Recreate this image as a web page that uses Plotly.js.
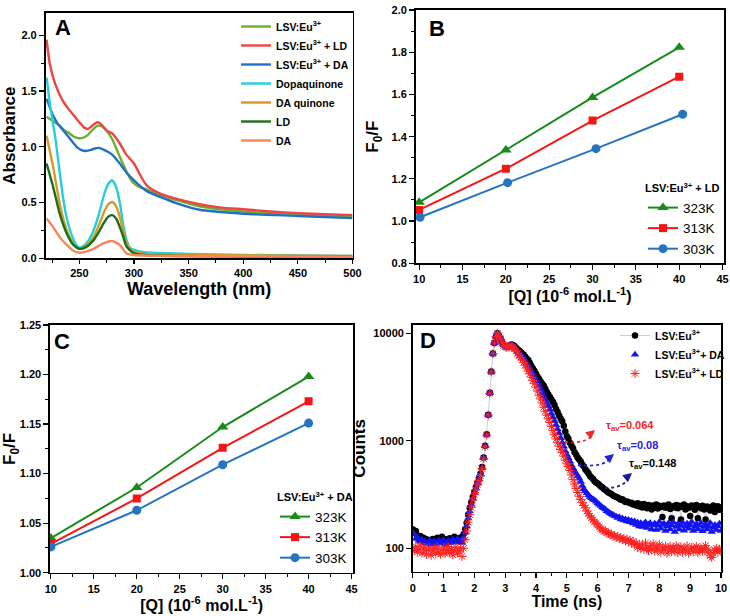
<!DOCTYPE html>
<html><head><meta charset="utf-8">
<script src="https://cdn.plot.ly/plotly-3.0.1.min.js"></script>
<style>html,body{margin:0;padding:0;background:#fff}#chart{width:730px;height:616px}</style>
</head><body><div id="chart"></div>
<script>
// ---------- Panel A : absorbance spectra ----------
const aLsvX = [220,226,232,236,241,245,249,253,257,261,265,268,271,275,280,284,287,293,299,305,312,324,340,360,400,450,500];
const aLsvY = [1.27,1.23,1.19,1.15,1.12,1.09,1.077,1.08,1.10,1.14,1.18,1.19,1.18,1.145,1.07,0.98,0.91,0.78,0.68,0.64,0.616,0.57,0.52,0.467,0.42,0.395,0.375];
const aLdMixX = [220,223,228,235,240,245,250,254,258,263,267,271,275,280,287,293,300,305,309,313,318,324,340,360,380,400,425,450,475,500];
const aLdMixY = [1.96,1.74,1.56,1.41,1.34,1.28,1.22,1.175,1.16,1.20,1.22,1.19,1.145,1.12,1.03,0.93,0.85,0.76,0.69,0.64,0.61,0.58,0.53,0.485,0.455,0.44,0.42,0.405,0.395,0.387];
const aDaMixX = [220,226,230,235,240,244,248,252,256,260,264,268,272,276,280,287,293,300,306,312,324,340,360,400,450,500];
const aDaMixY = [1.43,1.28,1.21,1.15,1.09,1.04,0.995,0.97,0.963,0.97,0.985,0.99,0.975,0.955,0.93,0.85,0.77,0.70,0.645,0.60,0.55,0.49,0.435,0.40,0.38,0.36];
const aDopaqX = [220,223,226,228,231,235,238,241.5,245,248,251,255,259,263,268,272,276,280,284,287,290,293,296,300,310,350,400,500];
const aDopaqY = [1.62,1.39,1.2,1.08,0.85,0.55,0.38,0.25,0.16,0.11,0.098,0.12,0.17,0.25,0.40,0.55,0.66,0.70,0.63,0.50,0.31,0.17,0.10,0.075,0.055,0.04,0.03,0.02];
const aDaqX = [220,226,232,238.5,244.5,250,256,263,268,272,276,280,284,287,290,293,299,310,350,500];
const aDaqY = [1.10,0.82,0.49,0.25,0.134,0.085,0.11,0.19,0.30,0.40,0.48,0.505,0.46,0.37,0.25,0.136,0.06,0.04,0.03,0.02];
const aLdX = [220,226,232,238.5,244.5,250,256,263,268,272,276,280,284,287,290,293,299,310,500];
const aLdY = [0.85,0.64,0.40,0.22,0.12,0.085,0.10,0.163,0.24,0.31,0.37,0.387,0.35,0.28,0.20,0.11,0.05,0.03,0.015];
const aDaX = [220,226,232,238.5,244.5,250,256,263,272,280,287,293,300,350,500];
const aDaY = [0.357,0.28,0.19,0.12,0.068,0.05,0.06,0.085,0.134,0.155,0.12,0.045,0.03,0.02,0.015];

// ---------- Panel B : Stern-Volmer, LSV:Eu3+ + LD ----------
const bQ = [10,20,30,40];
const bQ303 = [10.1,20.2,30.4,40.4];
const b323 = [1.089,1.337,1.586,1.823];
const b313 = [1.053,1.248,1.476,1.684];
const b303 = [1.018,1.182,1.343,1.506];

// ---------- Panel C : Stern-Volmer, LSV:Eu3+ + DA ----------
const cQ = [10,20,30,40];
const c323 = [1.035,1.086,1.147,1.198];
const c313 = [1.029,1.075,1.126,1.173];
const c303 = [1.026,1.063,1.109,1.151];

// ---------- Panel D : decay curves ----------
const dT = [0,0.05,0.1,0.15,0.2,0.25,0.3,0.35,0.4,0.45,0.5,0.55,0.6,0.65,0.7,0.75,0.8,0.85,0.9,0.95,
1,1.05,1.1,1.15,1.2,1.25,1.3,1.35,1.4,1.45,1.5,1.55,1.6,1.65,1.7,1.75,1.8,1.85,1.9,1.95,
2,2.05,2.1,2.15,2.2,2.25,2.3,2.35,2.4,2.45,2.5,2.55,2.6,2.65,2.7,2.75,2.8,2.85,2.9,2.95,
3,3.05,3.1,3.15,3.2,3.25,3.3,3.35,3.4,3.45,3.5,3.55,3.6,3.65,3.7,3.75,3.8,3.85,3.9,3.95,
4,4.05,4.1,4.15,4.2,4.25,4.3,4.35,4.4,4.45,4.5,4.55,4.6,4.65,4.7,4.75,4.8,4.85,4.9,4.95,
5,5.05,5.1,5.15,5.2,5.25,5.3,5.35,5.4,5.45,5.5,5.55,5.6,5.65,5.7,5.75,5.8,5.85,5.9,5.95,
6,6.05,6.1,6.15,6.2,6.25,6.3,6.35,6.4,6.45,6.5,6.55,6.6,6.65,6.7,6.75,6.8,6.85,6.9,6.95,
7,7.05,7.1,7.15,7.2,7.25,7.3,7.35,7.4,7.45,7.5,7.55,7.6,7.65,7.7,7.75,7.8,7.85,7.9,7.95,
8,8.05,8.1,8.15,8.2,8.25,8.3,8.35,8.4,8.45,8.5,8.55,8.6,8.65,8.7,8.75,8.8,8.85,8.9,8.95,
9,9.05,9.1,9.15,9.2,9.25,9.3,9.35,9.4,9.45,9.5,9.55,9.6,9.65,9.7,9.75,9.8,9.85,9.9,9.95,10];
const dLsv = [150,140,145,132,128,130,122,125,118,121,115,119,117,122,114,118,125,116,120,128,
117,121,113,119,124,116,122,128,118,123,117,126,121,135,150,172,205,238,268,300,
335,372,410,445,495,570,700,900,1150,1750,2800,4400,6500,8100,9300,10000,9500,8900,8300,7800,
7600,7500,7600,7750,7850,7800,7600,7350,7100,6900,6700,6500,6300,6050,5800,5600,5300,4950,4700,4450,
4200,3950,3750,3550,3400,3250,3050,2850,2700,2550,2420,2300,2150,1980,1850,1720,1600,1520,1380,1220,
1100,1050,960,900,850,780,740,700,670,640,600,575,540,520,500,470,455,440,420,410,
400,390,375,370,355,350,340,330,325,318,310,305,300,296,290,282,285,276,270,272,
268,262,265,255,258,250,262,245,255,240,258,248,236,252,244,230,250,240,255,235,
248,242,195,250,238,245,255,232,190,246,240,252,236,248,185,242,255,230,246,238,
200,250,240,228,252,190,244,236,248,230,185,245,238,225,240,250,218,235,246,228,240];
const dDa = [140,135,122,128,118,115,120,112,116,110,114,118,108,113,117,110,115,119,111,116,
120,109,114,118,112,116,121,113,117,122,114,118,112,125,140,160,190,220,255,290,
325,360,400,435,485,560,690,890,1140,1740,2780,4380,6480,8100,9300,10000,9500,8850,8250,7750,
7550,7450,7550,7700,7750,7650,7400,7100,6800,6550,6300,6050,5800,5500,5200,4950,4700,4400,4150,3900,
3650,3450,3250,3000,2780,2600,2420,2250,2100,1950,1780,1650,1520,1400,1280,1170,1060,960,880,800,
740,690,640,590,555,520,495,470,445,415,380,355,340,325,312,300,292,285,280,272,
262,255,248,240,236,230,222,218,212,208,205,200,198,192,195,186,190,182,186,178,
184,175,180,170,178,165,174,160,172,158,168,175,155,166,172,150,164,170,148,162,
176,152,165,170,145,160,172,150,163,175,142,158,168,150,162,174,146,160,170,152,
164,176,145,158,168,150,162,172,144,158,166,150,160,172,142,156,165,148,160,170,145];
const dLd = [100,95,104,92,98,105,90,97,102,88,96,101,86,94,99,90,103,92,88,97,
101,89,95,104,91,98,87,96,102,90,94,99,84,100,120,145,175,205,240,280,
315,350,390,425,475,550,680,880,1130,1730,2770,4370,6470,8100,9300,10000,9450,8800,8200,7700,
7500,7400,7500,7600,7600,7450,7150,6850,6500,6200,5900,5650,5350,5050,4750,4450,4200,3900,3650,3400,
3150,2900,2650,2450,2240,2050,1880,1730,1600,1480,1360,1250,1140,1040,960,890,830,780,720,660,
610,575,530,480,435,395,360,330,305,285,265,250,238,222,210,200,192,184,176,170,
165,158,152,148,144,145,140,138,134,135,130,131,126,128,124,126,120,123,117,121,
115,119,112,116,108,111,102,109,100,107,98,112,101,95,106,99,110,94,103,97,
108,92,101,96,105,90,99,104,93,100,96,106,91,98,103,92,100,95,105,90,
98,102,93,99,104,91,97,101,94,99,106,92,97,85,82,90,96,100,92,98,95];
const dTickVals = [100,1000,10000];
const dTickText = ['100','1000','10000'];

// ---------- layout helpers ----------
const F = 'Liberation Sans, Arial, sans-serif';
const W = 730, H = 616;
const px = v => v / W;
const py = v => 1 - v / H;

function axis(extra) {
  return Object.assign({
    showline: true, linecolor: '#000', linewidth: 1.6, mirror: true,
    ticks: 'outside', ticklen: 5, tickwidth: 1.2, tickcolor: '#000',
    showgrid: false, zeroline: false, automargin: false,
    tickfont: {family: F, size: 11, weight: 'bold', color: '#000'}
  }, extra);
}
function ttl(text, size, standoff) {
  return {text: text, font: {family: F, size: size, weight: 'bold', color: '#000'}, standoff: standoff};
}
const minor = (d) => ({dtick: d, ticklen: 3, ticks: 'outside', tickcolor: '#000', tickwidth: 1});
function note(text, x, y, size, color, xanchor) {
  return {text: text, x: px(x), y: py(y), xref: 'paper', yref: 'paper', showarrow: false,
    xanchor: xanchor || 'center', yanchor: 'middle',
    font: {family: F, size: size, weight: 'bold', color: color || '#000'}};
}
function head(x, y, color) {
  return {text: '', x: px(x), y: py(y), xref: 'paper', yref: 'paper', ax: -6, ay: 5,
    showarrow: true, arrowhead: 2, arrowsize: 1, arrowwidth: 1.8, arrowcolor: color};
}

const spl = (x, y, name, color) => ({
  x: x, y: y, name: name, type: 'scatter', mode: 'lines',
  line: {color: color, width: 2.4, shape: 'spline', smoothing: 0.6},
  xaxis: 'x', yaxis: 'y', legend: 'legend'
});
const sv = (x, y, name, color, sym, size, ax, lg) => ({
  x: x, y: y, name: name, type: 'scatter', mode: 'lines+markers',
  line: {color: color, width: 2},
  marker: {color: color, symbol: sym, size: size},
  xaxis: 'x' + ax, yaxis: 'y' + ax, legend: lg
});

const traces = [
  spl(aLsvX, aLsvY, 'LSV:Eu<sup>3+</sup>', '#6cae2e'),
  spl(aLdMixX, aLdMixY, 'LSV:Eu<sup>3+</sup> + LD', '#f04444'),
  spl(aDaMixX, aDaMixY, 'LSV:Eu<sup>3+</sup> + DA', '#2170c8'),
  spl(aDopaqX, aDopaqY, 'Dopaquinone', '#22d0dc'),
  spl(aDaqX, aDaqY, 'DA quinone', '#d49a22'),
  spl(aLdX, aLdY, 'LD', '#1b6e1b'),
  spl(aDaX, aDaY, 'DA', '#f6875a'),
  sv(bQ, b323, '323K', '#188b18', 'triangle-up', 10, '2', 'legend2'),
  sv(bQ, b313, '313K', '#f51515', 'square', 8, '2', 'legend2'),
  sv(bQ303, b303, '303K', '#2474c0', 'circle', 9, '2', 'legend2'),
  sv(cQ, c323, '323K', '#188b18', 'triangle-up', 10, '3', 'legend3'),
  sv(cQ, c313, '313K', '#f51515', 'square', 8, '3', 'legend3'),
  sv(cQ, c303, '303K', '#2474c0', 'circle', 9, '3', 'legend3'),
  {x: dT, y: dLsv, name: 'LSV:Eu<sup>3+</sup>', type: 'scatter', mode: 'lines+markers',
   line: {color: 'rgba(190,190,235,0.8)', width: 1},
   marker: {color: '#000', symbol: 'circle', size: 6.5},
   xaxis: 'x4', yaxis: 'y4', legend: 'legend4'},
  {x: dT, y: dDa, name: 'LSV:Eu<sup>3+</sup>+ DA', type: 'scatter', mode: 'markers',
   marker: {color: '#1414f0', symbol: 'triangle-up', size: 7.5},
   xaxis: 'x4', yaxis: 'y4', legend: 'legend4'},
  {x: dT, y: dLd, name: 'LSV:Eu<sup>3+</sup>+ LD', type: 'scatter', mode: 'markers',
   marker: {color: '#ff2020', symbol: 'asterisk-open', size: 7.5, line: {color: '#ff2020', width: 1}},
   xaxis: 'x4', yaxis: 'y4', legend: 'legend4'}
];

const legBase = {bgcolor: 'rgba(0,0,0,0)', borderwidth: 0, tracegroupgap: 0, xanchor: 'left'};

const layout = {
  width: W, height: H,
  margin: {l: 0, r: 0, t: 0, b: 0, pad: 0},
  paper_bgcolor: '#fff', plot_bgcolor: '#fff',
  font: {family: F, color: '#000'},
  xaxis: axis({domain: [px(45.5), px(352.5)], anchor: 'y', range: [219, 500], dtick: 50, tick0: 0,
    ticklen: 4, minor: minor(25)}),
  yaxis: axis({domain: [py(258.3), py(13)], anchor: 'x', range: [0, 2.2], dtick: 0.5, tickformat: '.1f',
    minor: minor(0.25), title: ttl('Absorbance', 17, 10)}),
  xaxis2: axis({domain: [px(415.7), px(724.3)], anchor: 'y2', range: [9.6, 45.2], dtick: 5, tick0: 0,
    minor: minor(2.5), title: ttl('[Q] (10<sup>-6</sup> mol.L<sup>-1</sup>)', 16, 0)}),
  yaxis2: axis({domain: [py(263.3), py(10)], anchor: 'x2', range: [0.8, 2.0], dtick: 0.2, tickformat: '.1f',
    minor: minor(0.1), title: ttl('F<sub>0</sub>/F', 17, 8)}),
  xaxis3: axis({domain: [px(50), px(353.3)], anchor: 'y3', range: [9.9, 45.2], dtick: 5, tick0: 0,
    minor: minor(2.5), title: ttl('[Q] (10<sup>-6</sup> mol.L<sup>-1</sup>)', 16, 2)}),
  yaxis3: axis({domain: [py(572.7), py(325)], anchor: 'x3', range: [1.0, 1.25], dtick: 0.05, tickformat: '.2f',
    minor: minor(0.025), title: ttl('F<sub>0</sub>/F', 17, 4)}),
  xaxis4: axis({domain: [px(412.7), px(721)], anchor: 'y4', range: [0, 10], dtick: 1, tick0: 0,
    minor: minor(0.5), title: ttl('Time (ns)', 16, 2)}),
  yaxis4: axis({domain: [py(571.7), py(325)], anchor: 'x4', type: 'log', range: [1.782, 4.077],
    tickvals: dTickVals, ticktext: dTickText, title: ttl('Counts', 17, 3)}),
  legend: Object.assign({}, legBase, {x: px(236), y: py(12), yanchor: 'top',
    font: {family: F, size: 10.5, weight: 'bold', color: '#000'}}),
  legend2: Object.assign({}, legBase, {x: px(643), y: py(264), yanchor: 'bottom',
    title: {text: 'LSV:Eu<sup>3+</sup> + LD', font: {family: F, size: 11, weight: 'bold', color: '#000'}},
    font: {family: F, size: 13.5, color: '#000'}}),
  legend3: Object.assign({}, legBase, {x: px(275), y: py(573), yanchor: 'bottom',
    title: {text: 'LSV:Eu<sup>3+</sup> + DA', font: {family: F, size: 11, weight: 'bold', color: '#000'}},
    font: {family: F, size: 13.5, color: '#000'}}),
  legend4: Object.assign({}, legBase, {x: px(615), y: py(321), yanchor: 'top',
    font: {family: F, size: 10.5, weight: 'bold', color: '#000'}}),
  annotations: [
    note('Wavelength (nm)', 199, 289, 18),
    note('A', 63, 28, 22),
    note('B', 437, 29, 22),
    note('C', 62, 341, 22),
    note('D', 428, 340, 22),
    note('τ<sub>av</sub>=0.064', 604, 426, 11, '#f02828', 'left'),
    note('τ<sub>av</sub>=0.08', 615, 446, 11, '#2222e0', 'left'),
    note('τ<sub>av</sub>=0.148', 627, 464, 11, '#000', 'left'),
    head(595, 430, '#f02828'),
    head(614, 454, '#2222e0'),
    head(632, 473, '#1a1aa0')
  ],
  shapes: [
    {type: 'path', xref: 'paper', yref: 'paper', path: `M${px(565)},${py(442)} Q${px(590)},${py(444)} ${px(593)},${py(432)}`, line: {color: '#f02828', width: 1.8, dash: 'dot'}},
    {type: 'path', xref: 'paper', yref: 'paper', path: `M${px(578)},${py(465)} Q${px(606)},${py(468)} ${px(612)},${py(456)}`, line: {color: '#2222e0', width: 1.8, dash: 'dot'}},
    {type: 'path', xref: 'paper', yref: 'paper', path: `M${px(605)},${py(488)} Q${px(626)},${py(488)} ${px(630)},${py(475)}`, line: {color: '#1a1aa0', width: 1.8, dash: 'dot'}}
  ]
};

Plotly.newPlot('chart', traces, layout, {displayModeBar: false, staticPlot: true});
</script>
</body></html>
